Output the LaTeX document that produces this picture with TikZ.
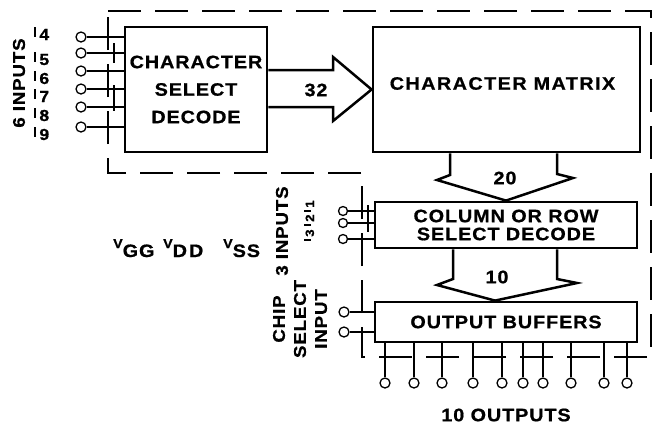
\documentclass[tikz,border=0pt]{standalone}
\usepackage{fontspec}
\usetikzlibrary{calc}
\newfontfamily\dfont[FakeStretch=1.1,LetterSpace=5,BoldFeatures={FakeBold=0.8}]{Liberation Sans}
\newcommand\pinlbl[1]{\rule[3.5pt]{2.2pt}{10pt}\hspace{3pt}#1}
\newcommand\pinlbs[1]{\rule[3pt]{1.8pt}{7pt}\hspace{2pt}#1}
\begin{document}
\begin{tikzpicture}[x=1pt,y=-1pt,
  box/.style={draw, line width=2.8pt, inner sep=0pt},
  boxtext/.style={font=\dfont\bfseries\fontsize{18}{18}\selectfont, align=center},
  arr/.style={line width=2.5pt, line join=miter},
  wire/.style={line width=1.5pt},
  pin/.style={circle, draw, line width=1.3pt, minimum size=10pt, inner sep=0pt},
  border/.style={line width=2.5pt, dash pattern=on 33pt off 14pt},
  tickline/.style={line width=2pt},
  num/.style={font=\dfont\bfseries\fontsize{18}{18}\selectfont},
  side/.style={font=\dfont\bfseries\fontsize{17}{21}\selectfont, align=center},
  supply/.style={anchor=base west, inner sep=0pt, font=\dfont\bfseries\fontsize{18}{18}\selectfont}
]
\useasboundingbox (0,0) rectangle (654,424);

% dashed package outline
\draw[border] (108,11) -- (651,11) -- (651,357) -- (362,357) -- (362,173) -- (108,173) -- cycle;
\draw[tickline] (114,43) -- (114,63) (114,85) -- (114,111) (368,205) -- (368,232);

% blocks
\node[box, minimum width=142pt, minimum height=125pt, boxtext, font=\dfont\bfseries\fontsize{18}{27.5}\selectfont] (csd) at (196,89.5) {CHARACTER\\SELECT\\DECODE};
\node[box, minimum width=267pt, minimum height=125pt] (cm) at (506.5,89.5) {};
\node[boxtext, font=\dfont\bfseries\fontsize{18}{18}\selectfont\addfontfeature{LetterSpace=8}] (cmt) at (502.5,83.5) {CHARACTER MATRIX};
\node[box, minimum width=262pt, minimum height=46pt, boxtext] (crd) at (506,225) {COLUMN OR ROW\\SELECT DECODE};
\node[box, minimum width=262pt, minimum height=40pt, boxtext] (ob) at (506,322) {OUTPUT BUFFERS};

% wide bus arrows
\draw[arr] (csd.east |- 0,70) -- (333,70) -- (333,57) -- (cm.west) -- (333,121) -- (333,107) -- (csd.east |- 0,107);
\node[num] (n32) at (316,90) {32};
\draw[arr] (cm.south -| 450,0) -- (450,175) -- (437,180) -- (crd.north) -- (573,178) -- (557,174) -- (cm.south -| 557,0);
\node[num] (n20) at (505,178) {20};
\draw[arr] (crd.south -| 453,0) -- (453,279) -- (437,285) -- (ob.north -| 495,0) -- (577,283) -- (557,279) -- (crd.south -| 557,0);
\node[num] (n10) at (497,277) {10};

% six character inputs
\foreach \n/\y in {1/37,2/53,3/71,4/89,5/107,6/127}{
  \node[pin] (i\n) at (81,\y) {};
  \draw[wire] (i\n) -- (i\n -| csd.west);
}
\node[side, rotate=90] (in6) at (19,83) {6 INPUTS};
\foreach \d/\y in {4/40,5/65,6/84,7/102,8/121,9/140}{
  \node[anchor=base west, inner sep=0pt, font=\dfont\bfseries\fontsize{16}{16}\selectfont] (p\d) at (34,\y) {\pinlbl{\d}};
}

% three column/row inputs
\foreach \n/\y in {1/211,2/223,3/239}{
  \node[pin, minimum size=9pt] (c\n) at (343,\y) {};
  \draw[wire] (c\n) -- (c\n -| crd.west);
}
\node[side, rotate=90] (in3) at (282,231) {3 INPUTS};
\foreach \d/\y in {1/206,2/220,3/235}{
  \node[rotate=90, inner sep=0pt, font=\dfont\bfseries\fontsize{12}{12}\selectfont] (q\d) at (309,\y) {\pinlbs{\d}};
}

% chip select inputs
\foreach \n/\y in {1/312,2/332}{
  \node[pin] (s\n) at (344,\y) {};
  \draw[wire] (s\n) -- (s\n -| ob.west);
}
\node[side, rotate=90] (cs) at (300,319) {CHIP\\SELECT\\INPUT};

% supply labels
\node[supply] (vgg) at (113,257) {\raisebox{9pt}{\fontsize{13}{13}\selectfont V}GG};
\node[supply] (vdd) at (163,257) {\raisebox{9pt}{\fontsize{13}{13}\selectfont V}D\hspace{2pt}D};
\node[supply] (vss) at (223,257) {\raisebox{9pt}{\fontsize{13}{13}\selectfont V}SS};

% ten outputs
\foreach \n/\x in {1/385,2/414,3/442,4/473,5/502,6/523,7/543,8/571,9/604,10/627}{
  \node[pin] (o\n) at (\x,383) {};
  \draw[wire] (o\n) -- (o\n |- ob.south);
}
\node[num] (out) at (506,415) {10 OUTPUTS};
\end{tikzpicture}
\end{document}
